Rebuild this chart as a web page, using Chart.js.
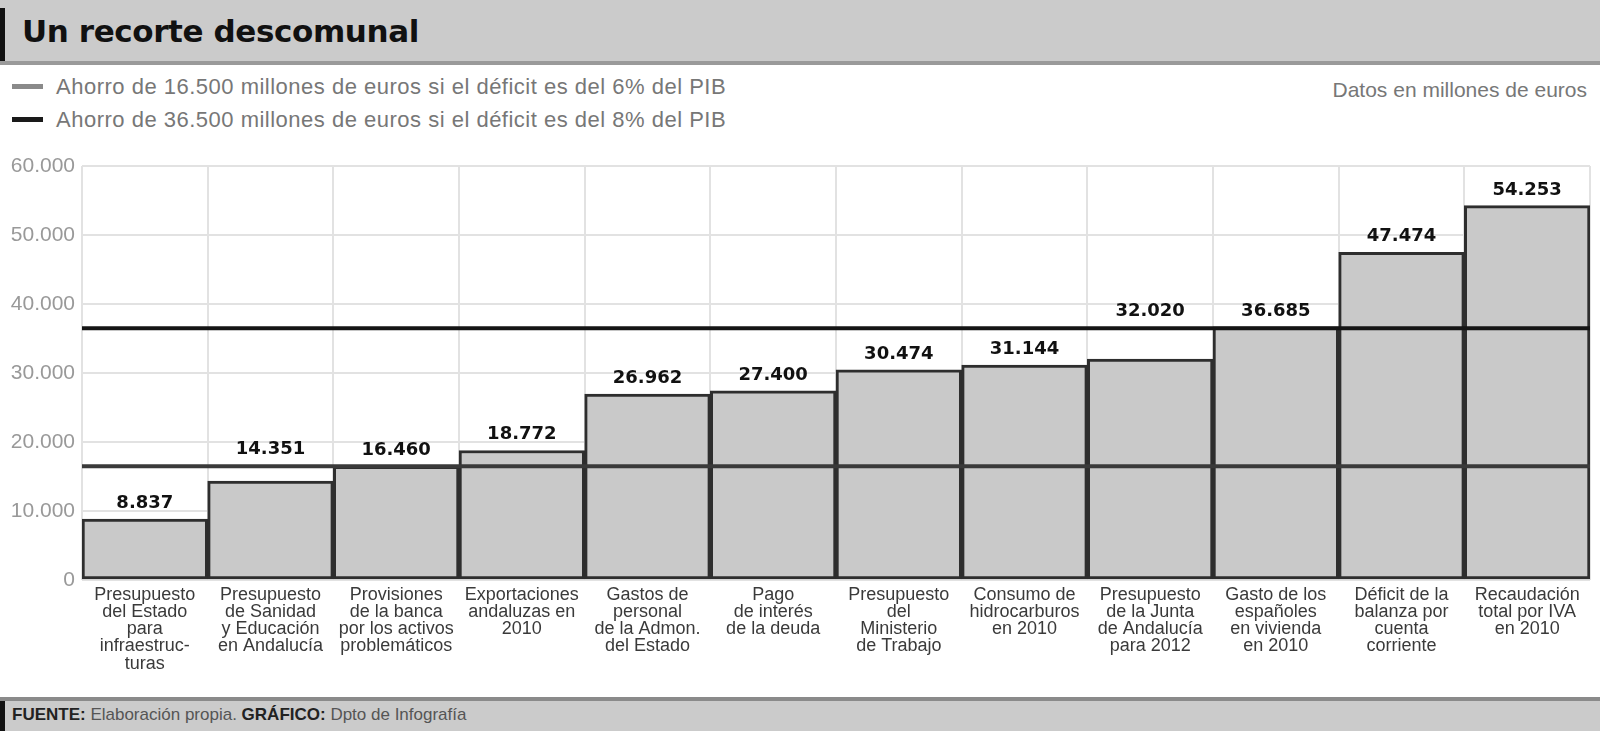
<!DOCTYPE html>
<html>
<head>
<meta charset="utf-8">
<script src="https://cdn.jsdelivr.net/npm/chart.js@4/dist/chart.umd.min.js"></script>
<style>
  html, body { margin: 0; padding: 0; background: #fff; width: 1600px; height: 731px; overflow: hidden; }
  body { position: relative; font-family: "Liberation Sans", "DejaVu Sans", sans-serif; }
  #titleBand { position: absolute; left: 0; top: 0; width: 1600px; height: 61px; background: #cbcbcb; border-bottom: 4px solid #9a9a9a; }
  #titleBand .mark { position: absolute; left: 0; top: 8px; width: 5px; height: 53px; background: #111; }
  #titleBand h1 { position: absolute; left: 22px; top: 13px; margin: 0; font: bold 31px "DejaVu Sans", sans-serif; color: #111; letter-spacing: -0.4px; }
  .legendRow { position: absolute; left: 12px; font-size: 22px; letter-spacing: 0.5px; color: #777; white-space: nowrap; line-height: 26px; }
  .legendRow .sw { display: inline-block; width: 31px; height: 5px; vertical-align: middle; margin-right: 13px; position: relative; top: -2px; }
  #units { position: absolute; right: 13px; top: 77px; font-size: 21px; color: #777; line-height: 26px; }
  #chartBox { position: absolute; left: 0; top: 140px; width: 1600px; height: 557px; }
  #footBand { position: absolute; left: 0; top: 697px; width: 1600px; height: 30px; background: #cbcbcb; border-top: 4px solid #8a8a8a; }
  #footBand .mark { position: absolute; left: 0; top: 0; width: 5px; height: 30px; background: #111; }
  #footBand p { position: absolute; left: 12px; top: 4px; margin: 0; font-size: 17px; color: #555; line-height: 20px; }
  #footBand b { color: #222; }
</style>
</head>
<body>
<div id="titleBand"><div class="mark"></div><h1>Un recorte descomunal</h1></div>
<div class="legendRow" style="top:74px"><span class="sw" style="background:#8a8a8a"></span>Ahorro de 16.500 millones de euros si el déficit es del 6% del PIB</div>
<div class="legendRow" style="top:107px"><span class="sw" style="background:#1a1a1a"></span>Ahorro de 36.500 millones de euros si el déficit es del 8% del PIB</div>
<div id="units">Datos en millones de euros</div>
<div id="chartBox"><canvas id="myChart"></canvas></div>
<div id="footBand"><div class="mark"></div><p><b>FUENTE:</b> Elaboración propia. <b>GRÁFICO:</b> Dpto de Infografía</p></div>

<script>
// categorias (etiquetas en varias lineas)
let categories = [
  ["Presupuesto", "del Estado", "para", "infraestruc-", "turas"],
  ["Presupuesto", "de Sanidad", "y Educación", "en Andalucía"],
  ["Provisiones", "de la banca", "por los activos", "problemáticos"],
  ["Exportaciones", "andaluzas en", "2010"],
  ["Gastos de", "personal", "de la Admon.", "del Estado"],
  ["Pago", "de interés", "de la deuda"],
  ["Presupuesto", "del", "Ministerio", "de Trabajo"],
  ["Consumo de", "hidrocarburos", "en 2010"],
  ["Presupuesto", "de la Junta", "de Andalucía", "para 2012"],
  ["Gasto de los", "españoles", "en vivienda", "en 2010"],
  ["Déficit de la", "balanza por", "cuenta", "corriente"],
  ["Recaudación", "total por IVA", "en 2010"]
];
let values = [8837, 14351, 16460, 18772, 26962, 27400, 30474, 31144, 32020, 36685, 47474, 54253];
let savingLines = [16500, 36500];
let savingColors = ["#3a3a3a", "#151515"];
let yTicks = [0, 10000, 20000, 30000, 40000, 50000, 60000];

function fmt(n) {
  return String(n).replace(/\B(?=(\d{3})+(?!\d))/g, ".");
}

// lineas de ahorro y etiquetas de valor
let overlayPlugin = {
  id: "overlay",
  afterDatasetsDraw: function(chart) {
    let ctx = chart.ctx;
    let area = chart.chartArea;
    let y = chart.scales.y;
    ctx.save();
    let linePx = [];
    for (let i = 0; i < savingLines.length; i++) {
      let py = y.getPixelForValue(savingLines[i]);
      linePx.push(py);
      ctx.strokeStyle = savingColors[i];
      ctx.lineWidth = 4;
      ctx.beginPath();
      ctx.moveTo(area.left, py);
      ctx.lineTo(area.right, py);
      ctx.stroke();
    }
    let meta = chart.getDatasetMeta(0);
    ctx.fillStyle = "#111";
    ctx.font = "bold 18px 'DejaVu Sans', sans-serif";
    ctx.textAlign = "center";
    ctx.textBaseline = "alphabetic";
    meta.data.forEach(function(bar, i) {
      let base = bar.y - 11;
      // si la etiqueta choca con una linea, se sube por encima
      linePx.forEach(function(py) {
        if (base - 14 - 9 < py && base + 6 > py) base = py - 12;
      });
      ctx.fillText(fmt(values[i]), bar.x, base);
    });
    ctx.restore();
  }
};

let canvasEl = document.getElementById("myChart").getContext("2d");
let myChart = new Chart(canvasEl, {
  type: "bar",
  data: {
    labels: categories,
    datasets: [{
      data: values,
      backgroundColor: "#c9c9c9",
      borderColor: "#2e2e2e",
      borderWidth: 3,
      borderSkipped: false,
      barPercentage: 1,
      categoryPercentage: 1
    }]
  },
  options: {
    responsive: true,
    maintainAspectRatio: false,
    animation: false,
    layout: { padding: { top: 26, right: 10, left: 0, bottom: 0 } },
    plugins: {
      legend: { display: false },
      tooltip: { enabled: false }
    },
    scales: {
      x: {
        grid: { color: "#e2e2e2", lineWidth: 2, drawTicks: false },
        border: { display: false },
        ticks: {
          color: "#3a3a3a",
          font: { family: "'Liberation Sans', sans-serif", size: 18, lineHeight: 0.96 },
          maxRotation: 0,
          autoSkip: false,
          padding: 6
        },
        afterFit: function(s) { s.height = 117; }
      },
      y: {
        min: 0,
        max: 60000,
        afterBuildTicks: function(s) { s.ticks = yTicks.map(function(v) { return { value: v }; }); },
        grid: { color: "#e2e2e2", lineWidth: 2, drawTicks: false },
        border: { display: false },
        ticks: {
          color: "#999",
          font: { family: "'Liberation Sans', sans-serif", size: 21 },
          padding: 7,
          callback: function(v) { return fmt(v); }
        },
        afterFit: function(s) { s.width = 82; }
      }
    }
  },
  plugins: [overlayPlugin]
});
</script>
</body>
</html>
